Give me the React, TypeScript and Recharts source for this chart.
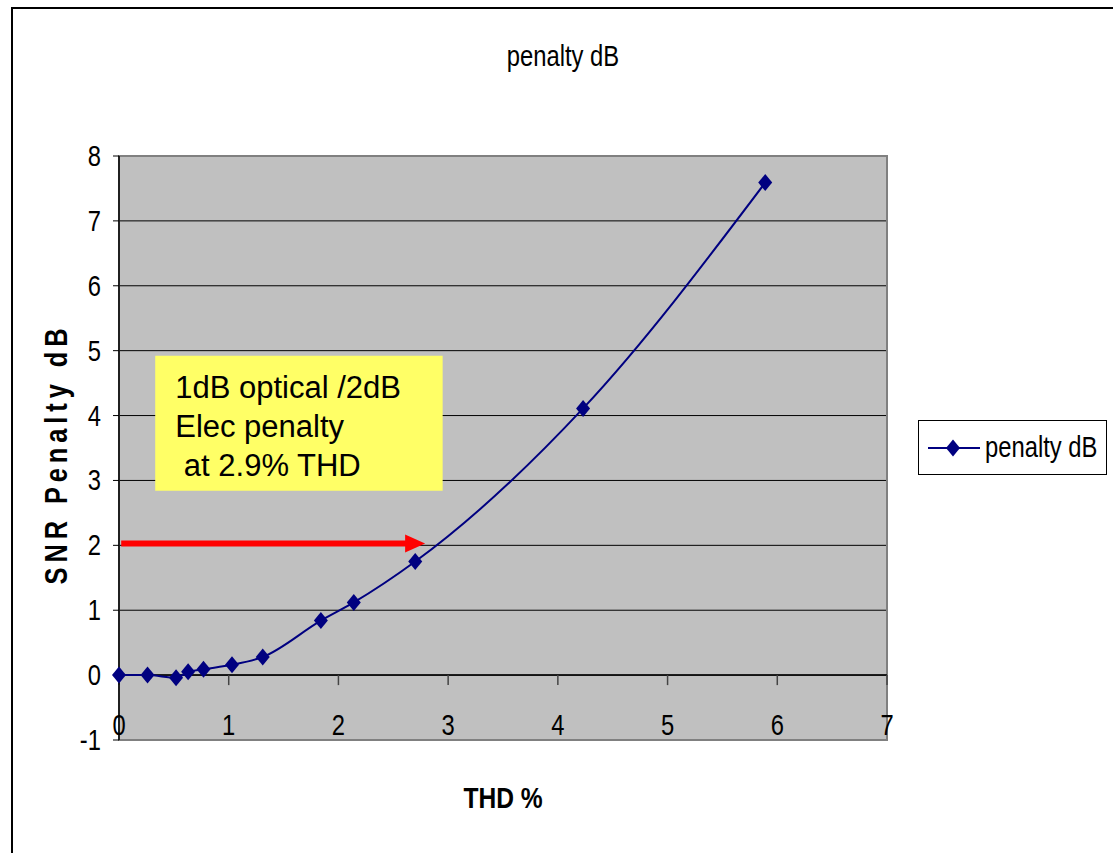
import {
  LineChart, Line, XAxis, YAxis, CartesianGrid, ReferenceLine, ReferenceArea, Legend, Label,
} from 'recharts';

// THD % vs SNR penalty (dB)
const thd = [0, 0.26, 0.52, 0.63, 0.77, 1.03, 1.31, 1.84, 2.14, 2.7, 4.23, 5.89];
const penalty = [0, 0, -0.04, 0.05, 0.09, 0.16, 0.28, 0.84, 1.12, 1.75, 4.11, 7.59];

const xTicks = [0, 1, 2, 3, 4, 5, 6, 7];
const yTicks = [-1, 0, 1, 2, 3, 4, 5, 6, 7, 8];

const noteLines = ['1dB optical /2dB', 'Elec penalty', '\u00a0at 2.9% THD'];
const noteBox = { x1: 0.33, x2: 2.95, y1: 2.84, y2: 4.92 };
const arrow = { from: 0.02, to: 2.79, y: 2.03 };

const data = thd.map((t, i) => ({ thd: t, penalty: penalty[i] }));

const NAVY = '#000080';
const ARIAL = "'Liberation Sans', Arial, sans-serif";
const SQUEEZE = 0.82; // Arial Narrow look

// Liberation Sans squeezed horizontally to stand in for Arial Narrow
function NarrowText({ x, y, anchor = 'start', size = 29, bold = false, rotate = 0, spacing = 0, children }: any) {
  return (
    <text
      transform={`translate(${x},${y}) rotate(${rotate}) scale(${SQUEEZE},1)`}
      textAnchor={anchor} fontFamily={ARIAL} fontSize={size}
      fontWeight={bold ? 'bold' : 'normal'} letterSpacing={spacing} fill="#000"
    >
      {children}
    </text>
  );
}

function Diamond({ cx, cy }: any) {
  if (cx == null || cy == null) return null;
  return (
    <polygon
      points={`${cx},${cy - 8.5} ${cx + 7},${cy} ${cx},${cy + 8.5} ${cx - 7},${cy}`}
      fill={NAVY}
    />
  );
}

function XTick({ x, y, payload }: any) {
  return <NarrowText x={x} y={y - 5} anchor="middle">{payload.value}</NarrowText>;
}

function YTick({ x, y, payload }: any) {
  return <NarrowText x={x} y={y + 10} anchor="end">{payload.value}</NarrowText>;
}

function NoteText({ viewBox }: any) {
  if (!viewBox) return null;
  return (
    <text fontFamily={ARIAL} fontSize={31} fill="#000">
      {noteLines.map((l, i) => (
        <tspan key={i} x={viewBox.x + 20} y={viewBox.y + 42 + i * 39}>{l}</tspan>
      ))}
    </text>
  );
}

function XTitle({ viewBox }: any) {
  const cx = viewBox.x + viewBox.width / 2;
  return <NarrowText x={cx} y={viewBox.y + 68} anchor="middle" size={30} bold>THD %</NarrowText>;
}

function YTitle({ viewBox }: any) {
  const cx = viewBox.x + viewBox.width / 2 + 7;
  const cy = viewBox.y + viewBox.height / 2 + 6;
  return (
    <NarrowText x={cx} y={cy} anchor="middle" size={31} bold rotate={-90} spacing={6}>
      SNR Penalty dB
    </NarrowText>
  );
}

function Arrow({ x1, y1, x2 }: any) {
  const tip = x2;
  return (
    <g>
      <line x1={x1} y1={y1} x2={tip - 18} y2={y1} stroke="#FF0000" strokeWidth={6} />
      <polygon points={`${tip},${y1} ${tip - 20},${y1 - 9} ${tip - 20},${y1 + 9}`} fill="#FF0000" />
    </g>
  );
}

function TickMark({ x1, y1 }: any) {
  return <line x1={x1} y1={y1} x2={x1} y2={y1 + 10} stroke="#444" strokeWidth={1.5} />;
}

function LegendBox() {
  return (
    <div
      style={{
        border: '1px solid #000', background: '#fff', width: 189, height: 55,
        boxSizing: 'border-box', display: 'flex', alignItems: 'center', overflow: 'hidden',
      }}
    >
      <svg width={66} height={20} style={{ flex: 'none' }}>
        <line x1={9} y1={10} x2={61} y2={10} stroke={NAVY} strokeWidth={2} />
        <polygon points="34,1.5 41,10 34,18.5 27,10" fill={NAVY} />
      </svg>
      <span
        style={{
          fontFamily: ARIAL, fontSize: 29, color: '#000', lineHeight: 1, whiteSpace: 'nowrap',
          display: 'inline-block', transform: `scaleX(${SQUEEZE})`, transformOrigin: 'left center',
        }}
      >
        penalty dB
      </span>
    </div>
  );
}

export default function App() {
  return (
    <div style={{ position: 'absolute', left: 0, top: 0, width: 1113, height: 853, overflow: 'hidden', background: '#fff' }}>
      <div
        style={{
          position: 'absolute', left: 11, top: 7, width: 1200, height: 900,
          border: '2px solid #000', boxSizing: 'border-box',
        }}
      />
      <div
        style={{
          position: 'absolute', left: 463, top: 42, width: 200, textAlign: 'center',
          fontFamily: ARIAL, fontSize: 29, lineHeight: 1, color: '#000', whiteSpace: 'nowrap',
          transform: `scaleX(${SQUEEZE})`, transformOrigin: 'center',
        }}
      >
        penalty dB
      </div>
      <div style={{ position: 'absolute', left: 0, top: 0 }}>
        <LineChart width={1113} height={853} data={data} margin={{ top: 156, right: 37, bottom: 83, left: 0 }}>
          <CartesianGrid vertical={false} stroke="#000" fill="#C0C0C0" fillOpacity={1} />
          <XAxis
            dataKey="thd" type="number" domain={[0, 7]} ticks={xTicks} interval={0}
            axisLine={false} tickLine={false} tickSize={0} tickMargin={0} height={30}
            tick={<XTick />}
          >
            <Label content={<XTitle />} />
          </XAxis>
          <YAxis
            type="number" domain={[-1, 8]} ticks={yTicks} interval={0} width={119}
            axisLine={{ stroke: '#000', strokeWidth: 1.5 }} tickLine={{ stroke: '#000' }} tickSize={6} tickMargin={12}
            tick={<YTick />}
          >
            <Label content={<YTitle />} />
          </YAxis>
          <ReferenceArea
            x1={0} x2={7} y1={-1} y2={8} fill="none" stroke="#808080" strokeWidth={2}
            ifOverflow="visible"
          />
          <ReferenceLine y={0} stroke="#000" strokeWidth={1.5} />
          {xTicks.map((t) => (
            <ReferenceLine
              key={t} segment={[{ x: t, y: 0 }, { x: t, y: 0 }]} ifOverflow="visible"
              shape={<TickMark />}
            />
          ))}
          <ReferenceArea
            x1={noteBox.x1} x2={noteBox.x2} y1={noteBox.y1} y2={noteBox.y2}
            fill="#FFFF66" fillOpacity={1} stroke="none"
            label={<Label content={<NoteText />} />}
          />
          <ReferenceLine
            segment={[{ x: arrow.from, y: arrow.y }, { x: arrow.to, y: arrow.y }]}
            ifOverflow="visible" shape={<Arrow />}
          />
          <Legend
            layout="vertical" align="right" verticalAlign="middle"
            content={<LegendBox />}
            wrapperStyle={{ left: 918, top: 420, right: 'auto', width: 189, height: 55 }}
          />
          <Line
            type="monotone" dataKey="penalty" name="penalty dB" stroke={NAVY} strokeWidth={2}
            dot={<Diamond />} activeDot={false} isAnimationActive={false}
          />
        </LineChart>
      </div>
    </div>
  );
}
